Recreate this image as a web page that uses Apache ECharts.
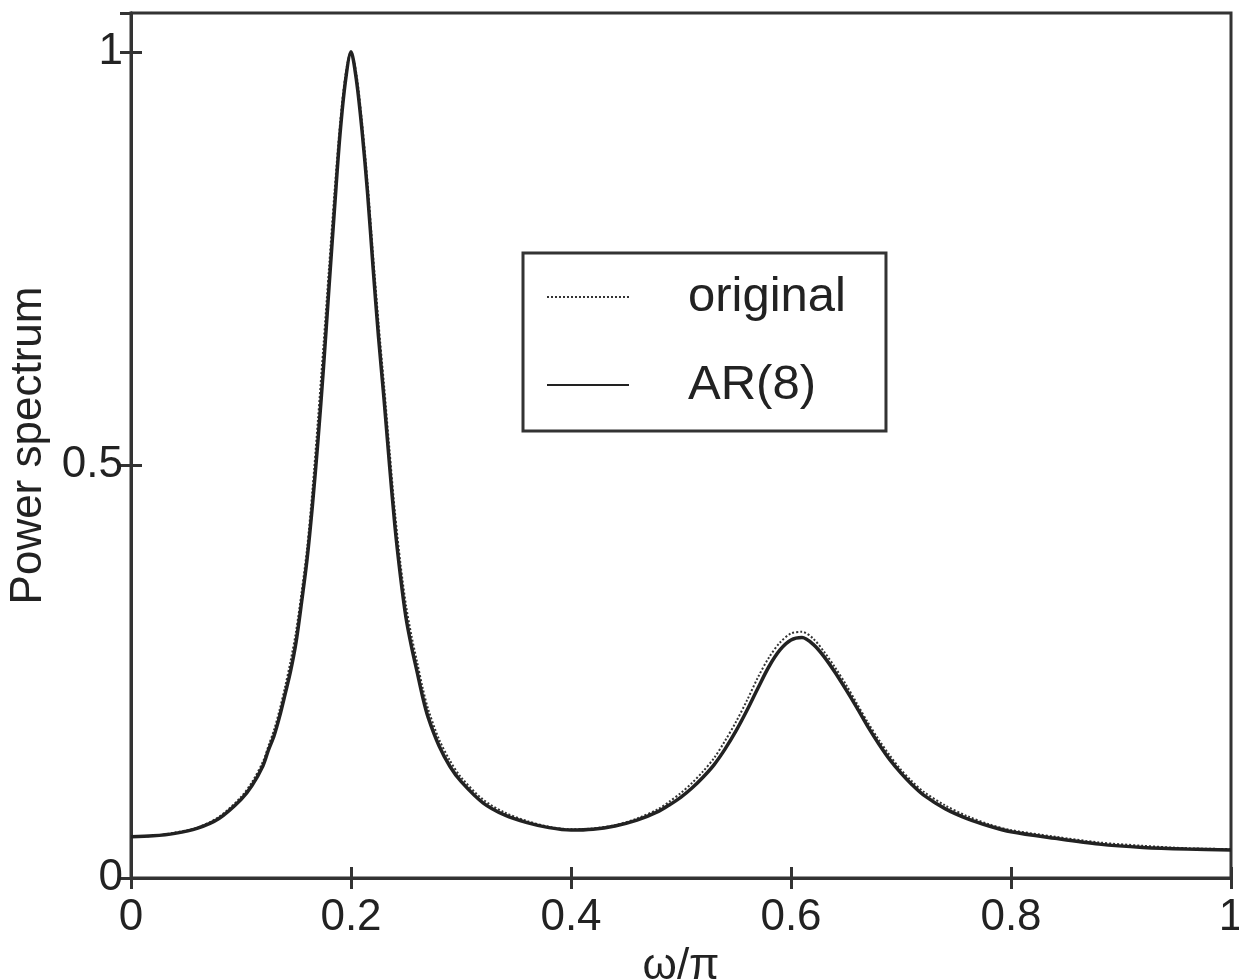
<!DOCTYPE html>
<html>
<head>
<meta charset="utf-8">
<script src="https://cdn.jsdelivr.net/npm/echarts@6/dist/echarts.min.js"></script>
<style>
html,body{margin:0;padding:0;background:#fff;}
#chart{width:1239px;height:980px;}
</style>
</head>
<body>
<div id="chart"></div>
<script>
// normalized frequency ω/π
const omega = [0, 0.02, 0.04, 0.06, 0.08, 0.10, 0.11, 0.12, 0.125, 0.13, 0.135, 0.14, 0.145, 0.15, 0.155, 0.16, 0.165, 0.17, 0.175, 0.18, 0.185, 0.19, 0.195, 0.20, 0.205, 0.21, 0.215, 0.22, 0.225, 0.23, 0.235, 0.24, 0.245, 0.25, 0.255, 0.26, 0.265, 0.27, 0.28, 0.29, 0.30, 0.32, 0.34, 0.36, 0.38, 0.40, 0.42, 0.44, 0.46, 0.48, 0.49, 0.50, 0.51, 0.52, 0.53, 0.54, 0.55, 0.56, 0.57, 0.58, 0.59, 0.60, 0.61, 0.62, 0.63, 0.64, 0.65, 0.66, 0.67, 0.68, 0.69, 0.70, 0.71, 0.72, 0.74, 0.76, 0.78, 0.80, 0.84, 0.88, 0.92, 0.96, 1.0];
const original = [0.050, 0.051, 0.055, 0.061, 0.074, 0.098, 0.116, 0.141, 0.160, 0.179, 0.203, 0.231, 0.262, 0.298, 0.345, 0.398, 0.470, 0.555, 0.645, 0.738, 0.830, 0.912, 0.972, 1.0, 0.972, 0.915, 0.842, 0.755, 0.672, 0.597, 0.518, 0.442, 0.380, 0.330, 0.293, 0.262, 0.231, 0.205, 0.168, 0.142, 0.122, 0.095, 0.079, 0.069, 0.062, 0.059, 0.060, 0.064, 0.072, 0.084, 0.093, 0.103, 0.115, 0.129, 0.145, 0.166, 0.189, 0.215, 0.243, 0.267, 0.285, 0.296, 0.298, 0.290, 0.274, 0.255, 0.234, 0.211, 0.188, 0.167, 0.148, 0.131, 0.117, 0.105, 0.088, 0.075, 0.065, 0.058, 0.050, 0.043, 0.039, 0.036, 0.035];
const ar8 = [0.050, 0.051, 0.054, 0.060, 0.072, 0.095, 0.112, 0.136, 0.155, 0.172, 0.195, 0.222, 0.250, 0.285, 0.333, 0.385, 0.452, 0.530, 0.618, 0.715, 0.810, 0.900, 0.965, 1.0, 0.965, 0.905, 0.830, 0.740, 0.655, 0.580, 0.500, 0.425, 0.365, 0.315, 0.280, 0.250, 0.220, 0.195, 0.160, 0.135, 0.117, 0.091, 0.076, 0.067, 0.061, 0.058, 0.059, 0.063, 0.070, 0.081, 0.089, 0.098, 0.109, 0.122, 0.137, 0.156, 0.178, 0.203, 0.230, 0.256, 0.276, 0.288, 0.291, 0.283, 0.268, 0.249, 0.228, 0.206, 0.183, 0.162, 0.143, 0.127, 0.113, 0.101, 0.084, 0.072, 0.063, 0.056, 0.048, 0.041, 0.037, 0.035, 0.034];
const xTicks = [0, 0.2, 0.4, 0.6, 0.8, 1];
const yTicks = [0, 0.5, 1];

const FONT = 'Liberation Sans, Arial, sans-serif';
const AX = '#333';

function pairs(xs, ys){ return xs.map((x,i)=>[x, ys[i]]); }

const chart = echarts.init(document.getElementById('chart'), null, {renderer:'canvas'});
const tickStyle = {show:true, inside:true, length:11, lineStyle:{color:AX, width:3}};
chart.setOption({
  animation:false,
  backgroundColor:'#fff',
  grid:{left:131, right:8, top:13, bottom:102, containLabel:false, outerBoundsMode:'none',
    show:true, borderColor:AX, borderWidth:3, backgroundColor:'transparent'},
  legend:{
    orient:'vertical',
    left:523, top:253,
    padding:[19,40,21,23],
    borderColor:AX, borderWidth:3,
    backgroundColor:'#fff',
    itemWidth:82, itemHeight:14,
    itemGap:38,
    itemStyle:{opacity:0, borderWidth:0},
    textStyle:{fontFamily:FONT, fontSize:49, color:'#222', lineHeight:50, padding:[0,0,0,54]},
    data:['original','AR(8)']
  },
  xAxis:[{
    type:'value', min:0, max:1, interval:0.2, position:'bottom',
    name:'ω/π', nameLocation:'middle', nameGap:62,
    nameTextStyle:{fontFamily:FONT, fontSize:44, color:'#222'},
    axisLine:{show:true, lineStyle:{color:AX, width:3}},
    axisTick:tickStyle,
    axisLabel:{fontFamily:FONT, fontSize:44, color:'#222', margin:18,
      formatter:v=>{const t=xTicks.find(k=>Math.abs(k-v)<1e-9); return t===undefined?'':String(t);}},
    splitLine:{show:false}
  },{
    type:'value', min:0, max:1, interval:0.2, position:'top',
    axisLine:{show:true, lineStyle:{color:AX, width:3}},
    axisTick:tickStyle, axisLabel:{show:false}, splitLine:{show:false}
  }],
  yAxis:[{
    type:'value', min:0, max:1.047, interval:0.5, position:'left',
    name:'Power spectrum', nameLocation:'middle', nameGap:72,
    nameTextStyle:{fontFamily:FONT, fontSize:44, color:'#222'},
    axisLine:{show:true, lineStyle:{color:AX, width:3}},
    axisTick:tickStyle,
    axisLabel:{fontFamily:FONT, fontSize:44, color:'#222', margin:8, showMaxLabel:false,
      formatter:v=>{const t=yTicks.find(k=>Math.abs(k-v)<1e-9); return t===undefined?'':String(t);}},
    splitLine:{show:false}
  },{
    type:'value', min:0, max:1.047, interval:0.5, position:'right',
    axisLine:{show:true, lineStyle:{color:AX, width:3}},
    axisTick:tickStyle, axisLabel:{show:false}, splitLine:{show:false}
  }],
  series:[{
    name:'original', type:'line', smooth:0.3, showSymbol:false, symbol:'none',
    data:pairs(omega, original),
    lineStyle:{color:'#333', width:2, type:'dotted'},
    itemStyle:{color:'#333'}, z:2
  },{
    name:'AR(8)', type:'line', smooth:0.3, showSymbol:false, symbol:'none',
    data:pairs(omega, ar8),
    lineStyle:{color:'#222', width:3.5, type:'solid'},
    itemStyle:{color:'#222'}, z:3
  }]
});
</script>
</body>
</html>
